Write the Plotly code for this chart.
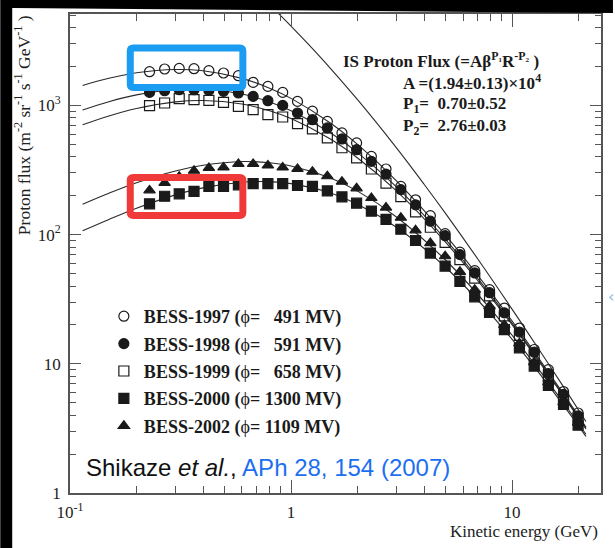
import plotly.graph_objects as go

# ---- BESS proton spectra -------------------------------------------------
# kinetic energy of each bin (GeV)
energy = [0.229, 0.268, 0.312, 0.364, 0.425, 0.495, 0.578, 0.674, 0.786, 0.917,
          1.07, 1.25, 1.46, 1.70, 1.98, 2.31, 2.69, 3.14, 3.66, 4.27,
          4.98, 5.81, 6.78, 7.91, 9.23, 10.8, 12.6, 14.6, 17.1, 19.9]

# flux in m^-2 sr^-1 s^-1 GeV^-1
flux_1997 = [1823, 1913, 1934, 1924, 1856, 1781, 1698, 1507, 1403, 1261,
             1074, 902, 752, 612, 512, 403, 322, 236, 186, 140,
             101.6, 73.1, 52.6, 37.5, 27.0, 18.9, 12.9, 9.0, 6.1, 4.16]
flux_1998 = [1261, 1299, 1323, 1323, 1307, 1284, 1247, 1174, 1088, 1000,
             873, 775, 669, 550, 454, 369, 294, 223, 170, 127,
             98.1, 70.0, 50.5, 35.5, 24.8, 17.6, 12.3, 8.4, 5.8, 3.95]
flux_1999 = [995, 1044, 1127, 1107, 1093, 1055, 982, 926, 847, 813,
             722, 657, 560, 470, 392, 322, 250, 197, 150, 114,
             87, 64, 46, 33.5, 23.5, 16.6, 11.6, 8.0, 5.5, 3.8]
flux_2000 = [173, 198, 207, 216, 236, 236, 243, 248, 248, 248,
             240, 236, 218, 196, 175, 152, 131, 110, 90, 72,
             57, 43.5, 33, 25, 18.4, 13.3, 9.6, 6.8, 4.85, 3.35]
flux_2002 = [220, 251, 280, 312, 328, 331, 352, 352, 343, 331,
             322, 307, 283, 257, 228, 192, 162, 135, 108, 86,
             68, 51.5, 37.5, 28, 20, 14.4, 10.3, 7.2, 5.05, 3.5]
err_2000 = [14, 10, 0, 0, 0, 0, 0, 0, 0, 0,
            0, 0, 0, 0, 0, 0, 0, 0, 0, 0,
            0, 0, 0, 0, 0, 0, 0, 0, 0, 0]

# modulated fit curves
curve_energy = [0.114, 0.15, 0.2, 0.3, 0.4, 0.6, 0.8, 1.0, 1.5, 2, 3, 5, 8, 12, 17, 21.6]
fit_1997 = [1425, 1621, 1788, 1897, 1853, 1618, 1359, 1133, 735, 499, 261, 99.1, 35.9, 13.93, 5.93, 3.24]
fit_1998 = [922, 1069, 1206, 1329, 1338, 1224, 1063, 910, 617, 431, 234, 92.0, 34.2, 13.45, 5.77, 3.17]
fit_1999 = [708, 829, 947, 1065, 1092, 1026, 909, 791, 551, 392, 218, 87.6, 33.0, 13.13, 5.68, 3.13]
fit_2002 = [172, 209, 252, 311, 344, 368, 360, 340, 275, 217, 137, 63.6, 26.5, 11.23, 5.06, 2.85]
fit_2000 = [107, 131, 160, 203, 230, 254, 257, 248, 211, 172, 114, 55.9, 24.2, 10.53, 4.83, 2.74]

# interstellar spectrum
lis_energy = [0.8, 0.9, 1.0, 1.2, 1.5, 2, 3, 4, 5, 7, 10, 14, 18, 21.6]
lis_flux = [6016, 4935, 4113, 2968, 1955, 1107, 469, 245.5, 145.9, 64.7, 26.5, 11.19, 5.80, 3.58]

labels = [
    "<b>BESS-1997 (</b>ϕ<b>=\u00a0\u2007491 MV)</b>",
    "<b>BESS-1998 (</b>ϕ<b>=\u00a0\u2007591 MV)</b>",
    "<b>BESS-1999 (</b>ϕ<b>=\u00a0\u2007658 MV)</b>",
    "<b>BESS-2000 (</b>ϕ<b>= 1300 MV)</b>",
    "<b>BESS-2002 (</b>ϕ<b>= 1109 MV)</b>",
]
x_ticks = [0.1, 1, 10]
x_ticktext = ["10<sup>-1</sup>", "1", "10"]
y_ticks = [1, 10, 100, 1000]
y_ticktext = ["1", "10", "10<sup>2</sup>", "10<sup>3</sup>"]
minor_x = [0.2, 0.3, 0.4, 0.5, 0.6, 0.7, 0.8, 0.9,
           2, 3, 4, 5, 6, 7, 8, 9, 20]
minor_y = [2, 3, 4, 5, 6, 7, 8, 9, 20, 30, 40, 50, 60, 70, 80, 90,
           200, 300, 400, 500, 600, 700, 800, 900, 2000, 3000, 4000, 5000]

# ---- figure geometry ------------------------------------------------------
W, H = 615, 548
ML, MR, MT, MB = 70, 12, 14, 55
PW, PH = W - ML - MR, H - MT - MB
X_RANGE = [-1, -1 + PW / 221.85]
Y_RANGE = [0, PH / 129.2]


def px(x, y):
    """pixel position -> paper coordinates"""
    return (x - ML) / PW, (H - MB - y) / PH


INK = "#1a1a1a"
AXIS = "#555555"
SERIF = "Liberation Serif, Times New Roman, serif"

fig = go.Figure()

for fe in [fit_1997, fit_1998, fit_1999, fit_2002, fit_2000]:
    fig.add_trace(go.Scatter(x=curve_energy, y=fe, mode="lines",
                             line=dict(color="#2a2a2a", width=1.1, shape="spline"),
                             showlegend=False, hoverinfo="skip"))
fig.add_trace(go.Scatter(x=lis_energy, y=lis_flux, mode="lines",
                         line=dict(color="#2a2a2a", width=1.1, shape="spline"),
                         showlegend=False, hoverinfo="skip"))

marker_defs = [
    (flux_1997, "circle-open", 10, None),
    (flux_1998, "circle", 10, None),
    (flux_1999, "square-open", 10, None),
    (flux_2000, "square", 10, err_2000),
    (flux_2002, "triangle-up", 10, None),
]
for k, ((vals, sym, size, err), name) in enumerate(zip(marker_defs, labels)):
    fig.add_trace(go.Scatter(
        x=energy, y=vals, mode="markers", name=name, legendgroup=f"g{k}",
        marker=dict(symbol=sym, size=size, color=INK,
                    line=dict(color=INK, width=1.2)),
        error_y=(dict(type="data", array=err, visible=True, width=0,
                      thickness=1.2, color=INK) if err else None),
    ))

# empty trace that carries the minor-tick axes
fig.add_trace(go.Scatter(x=[], y=[], xaxis="x2", yaxis="y2", showlegend=False,
                         hoverinfo="skip"))

axis_common = dict(type="log", showline=True, linecolor=AXIS, linewidth=1.6,
                   mirror="ticks", ticks="inside", tickwidth=1.3, tickcolor=AXIS,
                   showgrid=False, zeroline=False, tickmode="array",
                   tickfont=dict(family=SERIF, size=17, color="#222"))

fig.update_layout(
    xaxis=dict(range=X_RANGE, tickvals=x_ticks, ticktext=x_ticktext,
               ticklen=13, ticklabelstandoff=3, **axis_common),
    yaxis=dict(range=Y_RANGE, tickvals=y_ticks, ticktext=y_ticktext,
               ticklen=11, ticklabelstandoff=4, **axis_common),
    xaxis2=dict(overlaying="x", anchor="y", side="bottom", range=X_RANGE,
                tickvals=minor_x, ticktext=[""] * len(minor_x), showticklabels=False,
                ticklen=7, **{k: v for k, v in axis_common.items() if k != "tickfont"}),
    yaxis2=dict(overlaying="y", anchor="x", side="left", range=Y_RANGE,
                tickvals=minor_y, ticktext=[""] * len(minor_y), showticklabels=False,
                ticklen=6, **{k: v for k, v in axis_common.items() if k != "tickfont"}),
)

annotations = []
# axis titles
ax_, ay_ = px(22, 125)
annotations.append(dict(x=ax_, y=ay_, xref="paper", yref="paper", textangle=-90,
                        text="Proton flux (m<sup>-2</sup> sr<sup>-1</sup> s<sup>-1</sup> GeV<sup>-1</sup> )",
                        showarrow=False, xanchor="center", yanchor="middle",
                        font=dict(family=SERIF, size=17.5, color="#222")))
ax_, ay_ = px(602, 531)
annotations.append(dict(x=ax_, y=ay_, xref="paper", yref="paper",
                        text="Kinetic energy (GeV)", showarrow=False,
                        xanchor="right", yanchor="middle",
                        font=dict(family=SERIF, size=17, color="#222")))
# fit parameters
param_lines = [
    (342, 60, "<b>IS Proton Flux (=Aβ<sup>P₁</sup>R<sup>-P₂</sup> )</b>"),
    (402, 82, "<b>A =(1.94±0.13)×10<sup>4</sup></b>"),
    (402, 105, "<b>P<sub>1</sub>=  0.70±0.52</b>"),
    (402, 127, "<b>P<sub>2</sub>=  2.76±0.03</b>"),
]
for x0, y0, t in param_lines:
    ax_, ay_ = px(x0, y0)
    annotations.append(dict(x=ax_, y=ay_, xref="paper", yref="paper", text=t,
                            showarrow=False, xanchor="left", yanchor="middle",
                            font=dict(family=SERIF, size=17, color="#1a1a1a")))
# reference
ax_, ay_ = px(84, 467)
annotations.append(dict(x=ax_, y=ay_, xref="paper", yref="paper",
                        text="Shikaze <i>et al.</i>, <span style='color:#1d6ff2'>APh 28, 154 (2007)</span>",
                        showarrow=False, xanchor="left", yanchor="middle",
                        font=dict(family="Liberation Sans, Arial, sans-serif", size=24, color="#111")))
ax_, ay_ = px(613, 296)
annotations.append(dict(x=ax_, y=ay_, xref="paper", yref="paper", text="‹",
                        showarrow=False, xanchor="center", yanchor="middle",
                        font=dict(family="DejaVu Sans", size=16, color="#8cbfe8")))


def rounded_box(x0, y0, x1, y1, r=3):
    pts = []
    a = px(x0 + r, y0); pts.append(f"M{a[0]},{a[1]}")
    a = px(x1 - r, y0); pts.append(f"L{a[0]},{a[1]}")
    c = px(x1, y0); e = px(x1, y0 + r); pts.append(f"Q{c[0]},{c[1]} {e[0]},{e[1]}")
    a = px(x1, y1 - r); pts.append(f"L{a[0]},{a[1]}")
    c = px(x1, y1); e = px(x1 - r, y1); pts.append(f"Q{c[0]},{c[1]} {e[0]},{e[1]}")
    a = px(x0 + r, y1); pts.append(f"L{a[0]},{a[1]}")
    c = px(x0, y1); e = px(x0, y1 - r); pts.append(f"Q{c[0]},{c[1]} {e[0]},{e[1]}")
    a = px(x0, y0 + r); pts.append(f"L{a[0]},{a[1]}")
    c = px(x0, y0); e = px(x0 + r, y0); pts.append(f"Q{c[0]},{c[1]} {e[0]},{e[1]}")
    return " ".join(pts) + " Z"


shapes = [
    # highlight boxes
    dict(type="path", xref="paper", yref="paper", path=rounded_box(130.5, 48, 243.5, 87.5),
         line=dict(color="#1a9cf2", width=7), layer="above"),
    dict(type="path", xref="paper", yref="paper", path=rounded_box(130.5, 177.5, 243.5, 215.5),
         line=dict(color="#f03a3a", width=7), layer="above"),
]
# dark frame around the page
p0, p1, p2, p3 = px(0, 0), px(W, 0), px(W, 13), px(12, 8)
shapes.append(dict(type="path", xref="paper", yref="paper",
                   path=f"M{p0[0]},{p0[1]} L{p1[0]},{p1[1]} L{p2[0]},{p2[1]} L{p3[0]},{p3[1]} Z",
                   fillcolor="black", line=dict(width=0), layer="above"))
a, b = px(0, 0), px(12, H)
shapes.append(dict(type="rect", xref="paper", yref="paper", x0=a[0], y0=a[1], x1=b[0], y1=b[1],
                   fillcolor="black", line=dict(width=0), layer="above"))

lx, ly = px(104, 298)
fig.update_layout(
    width=W, height=H, autosize=False,
    margin=dict(l=ML, r=MR, t=MT, b=MB),
    paper_bgcolor="white", plot_bgcolor="white",
    showlegend=True,
    legend=dict(x=lx, y=ly, xanchor="left", yanchor="top", bgcolor="rgba(0,0,0,0)",
                font=dict(family=SERIF, size=18, color="#1a1a1a"), tracegroupgap=1,
                itemclick=False, itemdoubleclick=False),
    annotations=annotations,
    shapes=shapes,
)

fig.write_html("out.html")
